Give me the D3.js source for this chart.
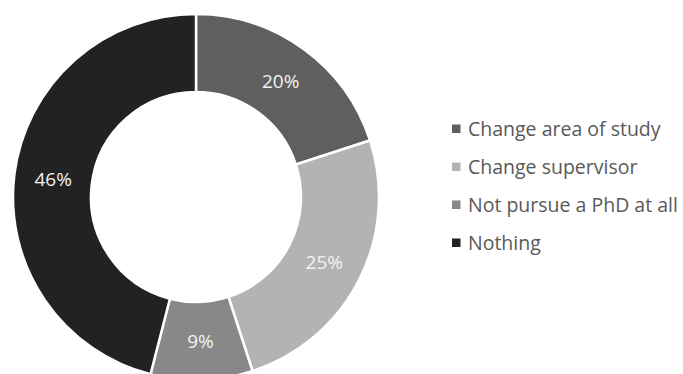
<!DOCTYPE html>
<html lang="en">
<head>
    <meta charset="UTF-8">
    <title>Donut</title>
    <script src="https://d3js.org/d3.v7.min.js"></script>
    <style>
        body { margin: 0; background: #fff; font-family: "Open Sans", sans-serif; }
        .label { font-size: 19px; fill: #f2f2f2; text-anchor: middle; dominant-baseline: central; }
        .legend text { font-size: 19.5px; fill: #595959; dominant-baseline: central; }
    </style>
</head>
<body>
    <svg id="chart" width="683" height="374"></svg>
    <script>
    const categories = ['Change area of study', 'Change supervisor', 'Not pursue a PhD at all', 'Nothing'];
    const values = [20, 25, 9, 46];
    const colors = ['#5f5f5f', '#b3b3b3', '#888888', '#222222'];

    const width = 683, height = 374;
    const cx = 196, cy = 197;
    const outerR = 183, innerR = 105;

    const svg = d3.select('#chart');
    const data = categories.map((c, i) => ({ cat: c, value: values[i], color: colors[i] }));

    const pie = d3.pie().sort(null).value(d => d.value);
    const arc = d3.arc().innerRadius(innerR).outerRadius(outerR);

    const g = svg.append('g').attr('transform', `translate(${cx},${cy})`);
    const arcs = pie(data);

    g.selectAll('path')
        .data(arcs)
        .join('path')
        .attr('d', arc)
        .attr('fill', d => d.data.color)
        .attr('stroke', 'white')
        .attr('stroke-width', 2.5);

    g.selectAll('.label')
        .data(arcs)
        .join('text')
        .attr('class', 'label')
        .attr('transform', d => `translate(${arc.centroid(d)})`)
        .text(d => d.data.value + '%');

    // legend
    const legend = svg.append('g').attr('class', 'legend');
    const rows = legend.selectAll('g')
        .data(data)
        .join('g')
        .attr('transform', (d, i) => `translate(452, ${128.5 + i * 38})`);
    rows.append('rect')
        .attr('x', 0).attr('y', -4)
        .attr('width', 8.5).attr('height', 8.5)
        .attr('fill', d => d.color);
    rows.append('text')
        .attr('x', 16).attr('y', 0)
        .text(d => d.cat);
    </script>
</body>
</html>
